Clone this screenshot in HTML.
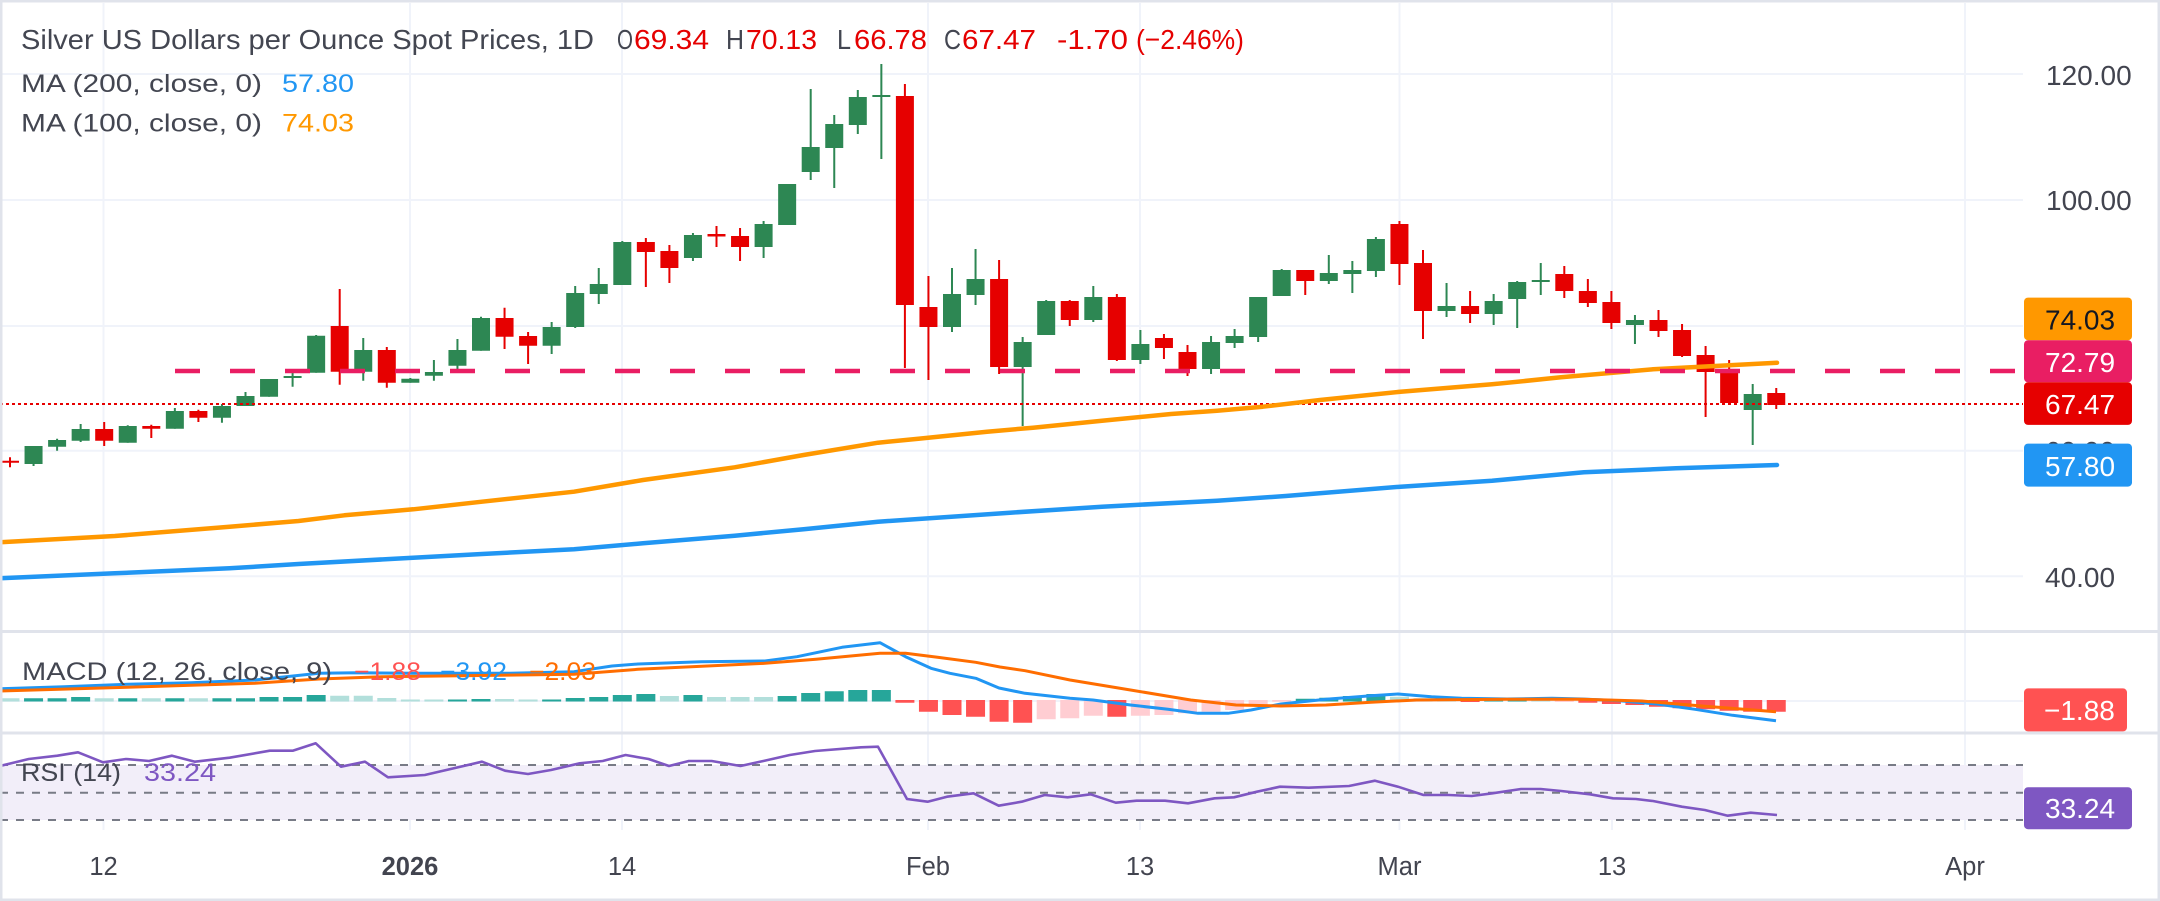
<!DOCTYPE html>
<html><head><meta charset="utf-8"><style>
html,body{margin:0;padding:0;background:#fff;}
svg{display:block;}
text{font-family:"Liberation Sans",Arial,sans-serif;}
</style></head><body>
<svg width="2160" height="901" viewBox="0 0 2160 901" xmlns="http://www.w3.org/2000/svg">
<rect x="0" y="0" width="2160" height="901" fill="#fff"/>
<!-- grid -->
<g stroke="#f0f3fa" stroke-width="2" fill="none">
<path d="M0 74H2023M0 200H2023M0 326H2023M0 450.7H2023M0 576.3H2023M0 701H2023"/>
<path d="M103.5 3V830M410 3V830M622 3V830M928 3V830M1140 3V830M1399.5 3V830M1612 3V830M1965 3V830"/>
</g>
<!-- RSI band -->
<rect x="0" y="765" width="2023" height="55" fill="#f2eef9"/>
<g stroke="#787b86" stroke-width="2" stroke-dasharray="8 8" fill="none">
<path d="M0 765H2023M0 792.7H2023M0 820H2023"/>
</g>
<!-- candles -->
<g fill="none" stroke="#2d8753">
<path stroke-width="2" d="M33.55 446V466M57.1 438.7V450.7M80.65 424V442M127.75 425.3V442.7M174.85 408V428.7M221.95 404V422.7M245.5 392V406M269.05 379V396.7M292.6 370.7V386.7M316.15 335V372.7M363.25 338V380.7M410.35 378V382.7M433.9 360V380.7M457.45 339V369.3M481 316.7V350.7M551.65 322V354M575.2 286V328M598.75 268V304M622.3 241V285M692.95 233V261M763.6 221V258M787.15 184V225M810.7 89V180M834.25 115V188M857.8 90V134M881.35 64V159M952 268V332M975.55 249V305M1022.65 337V426M1046.2 300V335M1093.3 286V322M1140.4 330V364M1211.05 336V374M1234.6 329V348M1258.15 297V342M1281.7 269V296M1328.8 255V284M1352.35 261V293M1375.9 237V277M1446.55 283V317M1493.65 294V325M1517.2 281V328M1540.75 263V295M1634.95 315V344M1752.7 384V445"/>
<path stroke-width="18" d="M33.55 446V464M57.1 440V446.7M80.65 429V440.7M127.75 426V442.7M174.85 411V428.7M221.95 406V417.7M245.5 396V406M269.05 379V396.7M292.6 376V378M316.15 335.7V372.7M363.25 350V371.7M410.35 378.7V382.7M433.9 372V375.7M457.45 350V365.7M481 318V350.7M551.65 327V345.7M575.2 293V327M598.75 284V294M622.3 242V285M692.95 235V258M763.6 224V247M787.15 184V225M810.7 147V172M834.25 124V148M857.8 97V125M881.35 95V97M952 294V327M975.55 279V295M1022.65 342V367M1046.2 301V335M1093.3 297V320M1140.4 344V360M1211.05 342V369M1234.6 336V343M1258.15 297V337M1281.7 270V296M1328.8 273V281M1352.35 270V274M1375.9 239V271M1446.55 306V311M1493.65 301V314M1517.2 282V299M1540.75 280V282M1634.95 320V325M1752.7 394V410"/>
</g>
<g fill="none" stroke="#e60000">
<path stroke-width="2" d="M10 457.3V467.3M104.2 422V446M151.3 424.7V438M198.4 409.7V422M339.7 289V384.7M386.8 347V387.7M504.55 307.7V349M528.1 332V364M645.85 238V287M669.4 245V283M716.5 226V247M740.05 228V261M904.9 84V368M928.45 276V380M999.1 260V374M1069.75 300V326M1116.85 294V361M1163.95 334V359M1187.5 345V376M1305.25 270V295M1399.45 221V285M1423 250V339M1470.1 291V323M1564.3 266V298M1587.85 279V307M1611.4 291V329M1658.5 310V337M1682.05 324V357M1705.6 346V417M1729.15 360V403M1776.25 388V409"/>
<path stroke-width="18" d="M10 460.7V462.7M104.2 429V440.7M151.3 426V428.7M198.4 411V417.7M339.7 326V371.7M386.8 350V382.7M504.55 318V336.7M528.1 336V345.7M645.85 242V252M669.4 251V268M716.5 234V236.5M740.05 236V247M904.9 96V305M928.45 307V327M999.1 279V367M1069.75 301V320M1116.85 297V360M1163.95 338V348M1187.5 352V369M1305.25 270V281M1399.45 224V264M1423 263V311M1470.1 306V314M1564.3 274V291M1587.85 291V303M1611.4 302V323M1658.5 320V331M1682.05 330V356M1705.6 355V372M1729.15 372V403M1776.25 393V405"/>
</g>
<!-- price line dotted -->
<path d="M0 404H2023" stroke="#e60000" stroke-width="2" stroke-dasharray="3 3" fill="none"/>
<!-- MAs -->
<polyline fill="none" stroke="#2196f3" stroke-width="4.5" stroke-linejoin="round" stroke-linecap="round" points="0,578.3 114.8,573.3 229.6,568.3 298.5,564 390,559 482,554 574,549.3 643,543.3 734.7,535.7 803.6,529.3 878,521.7 1010,512.7 1102,506.7 1217,500.7 1285.7,496 1400.5,486.7 1492,480.7 1584,472.3 1676,468.3 1777,465"/>
<polyline fill="none" stroke="#ff9800" stroke-width="4.5" stroke-linejoin="round" stroke-linecap="round" points="0,542.3 114.8,536 229.6,526.7 298.5,521 344.4,515.3 413.3,509.3 482,501.7 528,496.7 574,491.7 643,480 734.7,467.3 803.6,455 878,442.7 918.4,438.7 987,431.7 1033,427.7 1102,420.7 1171,414 1217,410.7 1262.8,406.7 1320,400 1400.5,391.7 1492,384.3 1561,377.3 1653,369.3 1777,362.7"/>
<!-- horizontal dashed line -->
<path d="M175 371H2023" stroke="#e91e63" stroke-width="4.5" stroke-dasharray="25 30" fill="none"/>
<!-- MACD histogram -->
<g fill="none" stroke-width="19">
<path stroke="#26a69a" d="M33.55 701.5V698.3M57.1 701.5V698.3M80.65 701.5V697M127.75 701.5V698.3M174.85 701.5V698.3M221.95 701.5V698.3M245.5 701.5V698.3M269.05 701.5V697M292.6 701.5V697M316.15 701.5V695M457.45 701.5V699.5M481 701.5V699M551.65 701.5V699.5M575.2 701.5V698M598.75 701.5V697M622.3 701.5V695M645.85 701.5V694M692.95 701.5V695M787.15 701.5V696M810.7 701.5V693M834.25 701.5V691.3M857.8 701.5V690M881.35 701.5V690M1305.25 701.5V698.7M1328.8 701.5V697.7M1352.35 701.5V696M1375.9 701.5V694M1493.65 701.5V699.5M1517.2 701.5V699.5"/>
<path stroke="#b2dfdb" d="M10 701.5V698.3M104.2 701.5V698.3M151.3 701.5V698.3M198.4 701.5V698.3M339.7 701.5V695.7M363.25 701.5V695.7M386.8 701.5V698M410.35 701.5V699.5M433.9 701.5V699.5M504.55 701.5V699M528.1 701.5V699.5M669.4 701.5V696M716.5 701.5V697M740.05 701.5V697M763.6 701.5V697M1399.45 701.5V696.7M1423 701.5V698.3M1446.55 701.5V699.3M1540.75 701.5V699.5"/>
<path stroke="#ff5252" d="M904.9 700V702.7M928.45 700V711.7M952 700V715M975.55 700V716.7M999.1 700V721.7M1022.65 700V722.7M1116.85 700V716.7M1470.1 700V702M1587.85 700V702.7M1611.4 700V704M1634.95 700V705M1658.5 700V706.7M1682.05 700V708.3M1705.6 700V709.3M1729.15 700V710.7M1752.7 700V711.7M1776.25 700V711.7"/>
<path stroke="#ffcdd2" d="M1046.2 700V719.3M1069.75 700V718.3M1093.3 700V715.7M1140.4 700V715.7M1163.95 700V715M1187.5 700V713.3M1211.05 700V711.7M1234.6 700V710M1258.15 700V706M1281.7 700V701.7M1564.3 700V702"/>
</g>
<!-- MACD lines -->
<polyline fill="none" stroke="#2196f3" stroke-width="3" stroke-linejoin="round" points="0,688.7 64,686.7 127.6,684.3 191,682.7 255,680 319,673.3 357,672.7 414.5,673.3 510,673.3 574,671.7 612,666 638,664 701.5,661.7 765,661 797,656.7 842,647.3 880,642.7 905.6,656.7 931,668.3 950,673.3 975.8,678.3 999,688 1025,693.3 1070,698.3 1093,700 1130.5,705 1168,709.3 1198,713.3 1228,713.3 1251,710 1281,704 1326,699.3 1371,695.7 1398,694 1431.5,696.7 1461.6,698.3 1507,699 1552,698.3 1582,699 1619.7,700.7 1657,704 1695,709.3 1732.6,715.3 1776,720.7"/>
<polyline fill="none" stroke="#ff6d00" stroke-width="3" stroke-linejoin="round" points="0,691 127.6,687.3 255,683.3 319,679 382.7,676.7 574,674.3 638,669.3 765,663.3 816,659.3 880,653.3 905.6,653.3 937.5,657.3 975.8,662.3 1000,667 1025,670.7 1070,680 1130.5,690 1190.7,700 1236,705 1281,706 1326,705 1371,702.3 1416.5,700 1507,699.3 1582,699.3 1642,701 1702,706 1776,711.7"/>
<!-- RSI line -->
<polyline fill="none" stroke="#7e57c2" stroke-width="2.6" stroke-linejoin="round" points="0,766 28.7,759 57.4,755.7 78,752.3 103,762.3 126,759 149,761 172,755.7 195,761.7 229.6,757.7 269.8,750.7 292.7,750.7 315.7,743.3 341,766.7 365,761.7 388,777.3 424.8,775 482,761.7 505,770.7 528,774 551,770 579.7,763.3 602.7,761 625.6,755 648.6,759 669,766 688.8,761 711.7,761 740.5,766 763.4,761 789.8,755 815,751 861,747.3 878,746.7 907,799 927.6,801.7 947,796.7 973.5,793.3 998.7,805.7 1021.7,801.7 1044.7,795 1067.6,797.3 1090.6,794.3 1115.8,802.7 1136.5,800.7 1165,800.7 1188,803.3 1214.6,798.3 1234,797.3 1257,791.7 1280,786.7 1308.7,787.7 1349,786 1375,780.7 1398,786.7 1423.5,795 1448.8,795 1471.7,796 1492.4,793.3 1521,789 1540.6,789 1561.3,791 1590,794.3 1613,798.3 1635.9,799 1653,801 1681.8,806.7 1704.8,810 1727.7,815.7 1750.7,812.7 1777,815"/>
<!-- separators and border -->
<rect x="0" y="630" width="2160" height="3" fill="#e0e3eb"/>
<rect x="0" y="731.5" width="2160" height="3" fill="#e0e3eb"/>
<rect x="0" y="0" width="2160" height="901" fill="none" stroke="#e0e3eb" stroke-width="5"/>
<!-- legend -->
<g font-size="28" fill="#434651">
<text x="21" y="49" textLength="573" lengthAdjust="spacingAndGlyphs">Silver US Dollars per Ounce Spot Prices, 1D</text>
<text x="617" y="49" textLength="16" lengthAdjust="spacingAndGlyphs">O</text>
<text x="726" y="49" textLength="18" lengthAdjust="spacingAndGlyphs">H</text>
<text x="837" y="49" textLength="14" lengthAdjust="spacingAndGlyphs">L</text>
<text x="944" y="49" textLength="17" lengthAdjust="spacingAndGlyphs">C</text>
</g>
<g font-size="28" fill="#e50000">
<text x="634" y="49" textLength="75" lengthAdjust="spacingAndGlyphs">69.34</text>
<text x="746" y="49" textLength="71" lengthAdjust="spacingAndGlyphs">70.13</text>
<text x="854" y="49" textLength="73" lengthAdjust="spacingAndGlyphs">66.78</text>
<text x="962" y="49" textLength="74" lengthAdjust="spacingAndGlyphs">67.47</text>
<text x="1057" y="49" textLength="71" lengthAdjust="spacingAndGlyphs">-1.70</text>
<text x="1136" y="49" textLength="108" lengthAdjust="spacingAndGlyphs">(−2.46%)</text>
</g>
<g font-size="25">
<text x="21" y="92" fill="#434651" textLength="241" lengthAdjust="spacingAndGlyphs">MA (200, close, 0)</text>
<text x="282" y="92" fill="#2196f3" textLength="72" lengthAdjust="spacingAndGlyphs">57.80</text>
<text x="21" y="131.5" fill="#434651" textLength="241" lengthAdjust="spacingAndGlyphs">MA (100, close, 0)</text>
<text x="282" y="131.5" fill="#ff9800" textLength="72" lengthAdjust="spacingAndGlyphs">74.03</text>
<text x="22" y="680" fill="#434651" textLength="310" lengthAdjust="spacingAndGlyphs">MACD (12, 26, close, 9)</text>
<text x="354" y="680" fill="#ff5252" textLength="67" lengthAdjust="spacingAndGlyphs">−1.88</text>
<text x="440" y="680" fill="#2196f3" textLength="67" lengthAdjust="spacingAndGlyphs">−3.92</text>
<text x="529" y="680" fill="#ff6d00" textLength="67" lengthAdjust="spacingAndGlyphs">−2.03</text>
<text x="21" y="781" fill="#434651" textLength="100" lengthAdjust="spacingAndGlyphs">RSI (14)</text>
<text x="144" y="781" fill="#7e57c2" textLength="72" lengthAdjust="spacingAndGlyphs">33.24</text>
</g>
<!-- price axis labels -->
<g font-size="28" fill="#42444f">
<text x="2046" y="85">120.00</text>
<text x="2046" y="210">100.00</text>
<text x="2045" y="336">80.00</text>
<text x="2045" y="461">60.00</text>
<text x="2045" y="587">40.00</text>
</g>
<!-- value boxes -->
<g>
<rect x="2024" y="297.6" width="108" height="42.6" rx="4" fill="#ff9800"/>
<rect x="2024" y="340.2" width="108" height="42.1" rx="4" fill="#e91e63"/>
<rect x="2024" y="382.3" width="108" height="42.6" rx="4" fill="#e60000"/>
<rect x="2024" y="443.6" width="108" height="43" rx="4" fill="#2196f3"/>
<rect x="2024" y="688.4" width="103" height="43" rx="4" fill="#ff5252"/>
<rect x="2024" y="787.2" width="108" height="42" rx="4" fill="#7e57c2"/>
</g>
<g font-size="28">
<text x="2045" y="329.5" fill="#131722">74.03</text>
<text x="2045" y="372" fill="#fff">72.79</text>
<text x="2045" y="414" fill="#fff">67.47</text>
<text x="2045" y="476" fill="#fff">57.80</text>
<text x="2044" y="720" fill="#fff">−1.88</text>
<text x="2045" y="818" fill="#fff">33.24</text>
</g>
<!-- time axis -->
<g font-size="25.5" fill="#42444f" text-anchor="middle">
<text x="103.5" y="875">12</text>
<text x="410" y="875" font-weight="bold">2026</text>
<text x="622" y="875">14</text>
<text x="928" y="875">Feb</text>
<text x="1140" y="875">13</text>
<text x="1399.5" y="875">Mar</text>
<text x="1612" y="875">13</text>
<text x="1965" y="875">Apr</text>
</g>
</svg>
</body></html>
